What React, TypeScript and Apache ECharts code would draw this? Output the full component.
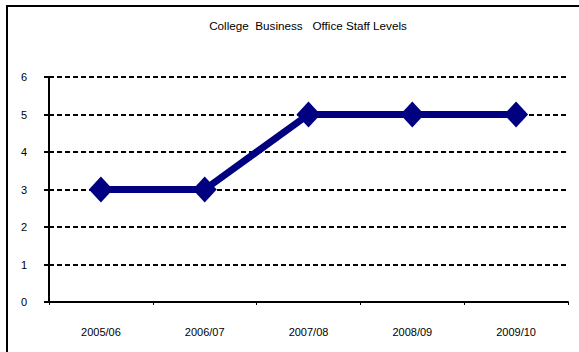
import React, { useEffect, useRef } from "react";
import * as echarts from "echarts";

const categories = ["2005/06", "2006/07", "2007/08", "2008/09", "2009/10"];
const staffLevels = [3, 3, 5, 5, 5];
const titleText = "College  Business   Office Staff Levels";

export default function App() {
  const ref = useRef<HTMLDivElement>(null);
  useEffect(() => {
    if (!ref.current) return;
    const chart = echarts.init(ref.current, undefined, { renderer: "svg" });
    chart.setOption({
      animation: false,
      backgroundColor: "#ffffff",
      textStyle: { fontFamily: "Liberation Sans, Arial, sans-serif" },
      title: {
        text: titleText,
        left: 308,
        top: 19,
        padding: 0,
        textAlign: "center",
        textStyle: { fontSize: 11.7, fontWeight: "normal", color: "#000" },
      },
      graphic: [
        {
          type: "rect",
          shape: { x: 7, y: 6, width: 640, height: 420 },
          style: { fill: "none", stroke: "#000", lineWidth: 2 },
          silent: true,
          z: 100,
        },
      ],
      grid: { left: 49, right: 11, top: 77, bottom: 50 },
      xAxis: {
        type: "category",
        data: categories,
        boundaryGap: true,
        axisLine: { lineStyle: { color: "#000", width: 2 } },
        axisTick: { show: true, length: 3, lineStyle: { color: "#000", width: 1 } },
        axisLabel: { color: "#000", fontSize: 11, margin: 24 },
        splitLine: { show: false },
        z: 3,
      },
      yAxis: {
        type: "value",
        min: 0,
        max: 6,
        interval: 1,
        axisLine: { show: true, lineStyle: { color: "#000", width: 2 } },
        axisTick: { show: true, length: 5, lineStyle: { color: "#000", width: 2 } },
        axisLabel: { color: "#000", fontSize: 11, margin: 22 },
        splitLine: { show: true, lineStyle: { color: "#000", width: 2, type: [5, 3] } },
        z: 3,
      },
      series: [
        {
          type: "line",
          data: staffLevels,
          symbol: "diamond",
          symbolSize: [24, 26],
          lineStyle: { color: "#000080", width: 7 },
          itemStyle: { color: "#000080" },
          z: 5,
        },
      ],
    });
    return () => chart.dispose();
  }, []);
  return (
    <div
      ref={ref}
      style={{ position: "absolute", left: 0, top: 0, width: 579, height: 352 }}
    />
  );
}
